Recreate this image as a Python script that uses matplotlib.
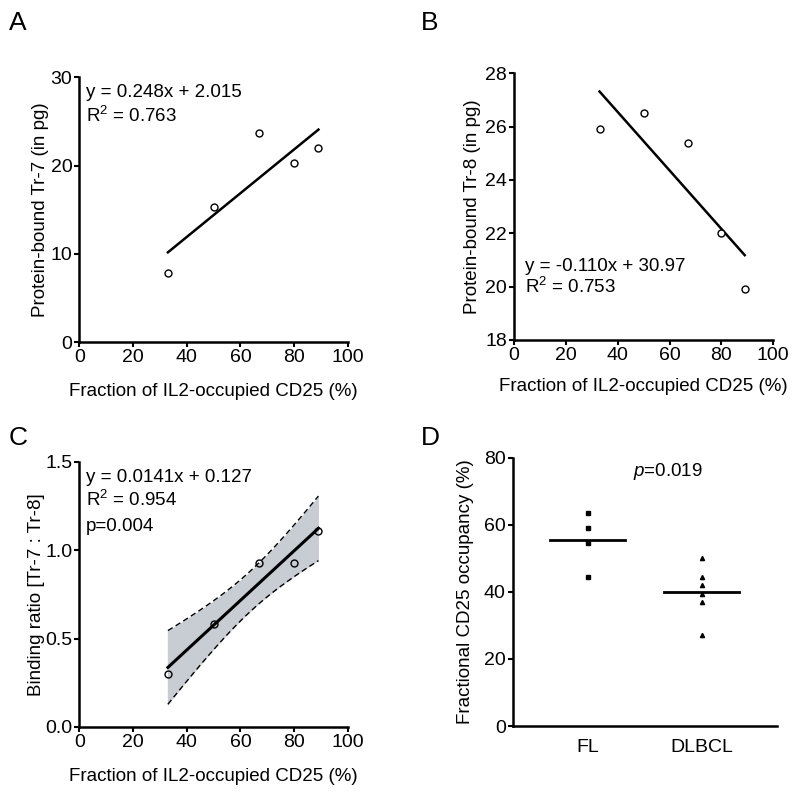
import numpy as np
import matplotlib
matplotlib.use("Agg")
import matplotlib.pyplot as plt

plt.rcParams["font.family"] = "Liberation Sans"
plt.rcParams["mathtext.fontset"] = "custom"
plt.rcParams["mathtext.rm"] = "Liberation Sans"
plt.rcParams["mathtext.it"] = "Liberation Sans:italic"

# --- DATA ---
occupied = np.array([33, 50, 67, 80, 89])          # fraction of IL2-occupied CD25 (%)
tr7 = np.array([7.8, 15.3, 23.7, 20.3, 22.0])      # protein-bound Tr-7 (pg)
tr8 = np.array([25.9, 26.5, 25.4, 22.0, 19.9])     # protein-bound Tr-8 (pg)
ratio = np.array([0.30, 0.58, 0.93, 0.93, 1.11])   # binding ratio Tr-7 : Tr-8

groups = ["FL", "DLBCL"]
fl_vals = [63.5, 59.0, 54.5, 44.5]
dlbcl_vals = [50.0, 44.5, 42.0, 39.5, 37.0, 27.0]

eq_a = ["y = 0.248x + 2.015", "R$^2$ = 0.763"]
eq_b = ["y = -0.110x + 30.97", "R$^2$ = 0.753"]
eq_c = ["y = 0.0141x + 0.127", "R$^2$ = 0.954", "p=0.004"]
p_d = "$p$=0.019"

xlab = "Fraction of IL2-occupied CD25 (%)"
FS = 13.5

fig = plt.figure(figsize=(8, 7.96), dpi=100)


def style(ax):
    for s in ["top", "right"]:
        ax.spines[s].set_visible(False)
    for s in ["left", "bottom"]:
        ax.spines[s].set_linewidth(1.8)
    ax.tick_params(width=1.5, length=3.5, pad=1.5, labelsize=14)


def fit(x, y):
    k, b = np.polyfit(x, y, 1)
    xx = np.linspace(x.min(), x.max(), 100)
    return xx, k * xx + b, k, b


def ylab(ax, text, dx):
    ax.text(dx, 0.5, text, transform=ax.transAxes, rotation=90,
            ha="center", va="center", fontsize=FS)


# --- A ---
axA = fig.add_axes([0.099, 0.570, 0.336, 0.333])
xx, yy, _, _ = fit(occupied, tr7)
axA.plot(xx, yy, color="black", lw=1.8)
axA.plot(occupied, tr7, "o", mfc="white", mec="black", ms=5, mew=1)
axA.set_xlim(0, 100)
axA.set_ylim(0, 30)
axA.set_xticks(range(0, 101, 20))
axA.set_yticks([0, 10, 20, 30])
style(axA)
axA.set_xlabel(xlab, fontsize=FS, labelpad=12)
ylab(axA, "Protein-bound Tr-7 (in pg)", -0.145)
for i, t in enumerate(eq_a):
    axA.text(0.026, 0.925 - i * 0.095, t, transform=axA.transAxes,
             fontsize=FS, va="baseline")

# --- B ---
axB = fig.add_axes([0.6425, 0.573, 0.324, 0.335])
xx, yy, _, _ = fit(occupied, tr8)
axB.plot(xx, yy, color="black", lw=1.8)
axB.plot(occupied, tr8, "o", mfc="white", mec="black", ms=5, mew=1)
axB.set_xlim(0, 100)
axB.set_ylim(18, 28)
axB.set_xticks(range(0, 101, 20))
axB.set_yticks(range(18, 29, 2))
style(axB)
axB.set_xlabel(xlab, fontsize=FS, labelpad=10)
ylab(axB, "Protein-bound Tr-8 (in pg)", -0.16)
for i, t in enumerate(eq_b):
    axB.text(0.042, 0.258 - i * 0.082, t, transform=axB.transAxes,
             fontsize=FS, va="baseline")

# --- C ---
axC = fig.add_axes([0.099, 0.0867, 0.336, 0.333])
xx, yy, k, b = fit(occupied, ratio)
n = len(occupied)
resid = ratio - (k * occupied + b)
s = np.sqrt(np.sum(resid ** 2) / (n - 2))
sxx = np.sum((occupied - occupied.mean()) ** 2)
t975 = 3.182  # t quantile, df = 3
half = t975 * s * np.sqrt(1 / n + (xx - occupied.mean()) ** 2 / sxx)
axC.fill_between(xx, yy - half, yy + half, color="#c8ccd3", lw=0)
axC.plot([xx[0], xx[0]], [yy[0] - half[0], yy[0] + half[0]], color="#c8ccd3", lw=1)
axC.plot(xx, yy - half, color="black", lw=1, dashes=(4, 2.5))
axC.plot(xx, yy + half, color="black", lw=1, dashes=(4, 2.5))
axC.plot(xx, yy, color="black", lw=2.2)
axC.plot(occupied, ratio, "o", mfc="none", mec="black", ms=5, mew=1)
axC.set_xlim(0, 100)
axC.set_ylim(0, 1.5)
axC.set_xticks(range(0, 101, 20))
axC.set_yticks([0.0, 0.5, 1.0, 1.5])
axC.set_yticklabels(["0.0", "0.5", "1.0", "1.5"])
style(axC)
axC.set_xlabel(xlab, fontsize=FS, labelpad=12)
ylab(axC, "Binding ratio [Tr-7 : Tr-8]", -0.16)
for i, t in enumerate(eq_c):
    axC.text(0.026, 0.925 - i * 0.093, t, transform=axC.transAxes,
             fontsize=FS, va="baseline")

# --- D ---
axD = fig.add_axes([0.641, 0.0879, 0.33, 0.337])
axD.plot([0] * len(fl_vals), fl_vals, "s", color="black", ms=3)
axD.plot([1] * len(dlbcl_vals), dlbcl_vals, "^", color="black", ms=3)
for pos, vals in enumerate([fl_vals, dlbcl_vals]):
    m = np.mean(vals)
    axD.plot([pos - 0.33, pos + 0.33], [m, m], color="black", lw=2)
axD.set_xlim(-0.657, 1.657)
axD.set_ylim(0, 80)
axD.set_yticks(range(0, 81, 20))
axD.set_xticks([0, 1])
axD.set_xticklabels(groups)
style(axD)
axD.tick_params(axis="x", length=0, pad=9)
ylab(axD, "Fractional CD25 occupancy (%)", -0.18)
axD.text(0.455, 0.933, p_d, transform=axD.transAxes, fontsize=FS, va="baseline")

# panel letters
for lab, x, y in [("A", 9, 30), ("B", 421, 30), ("C", 9, 445), ("D", 421, 445)]:
    fig.text(x / 800, 1 - y / 796, lab, fontsize=19, va="baseline", ha="left")

fig.savefig("out.png", dpi=100)
